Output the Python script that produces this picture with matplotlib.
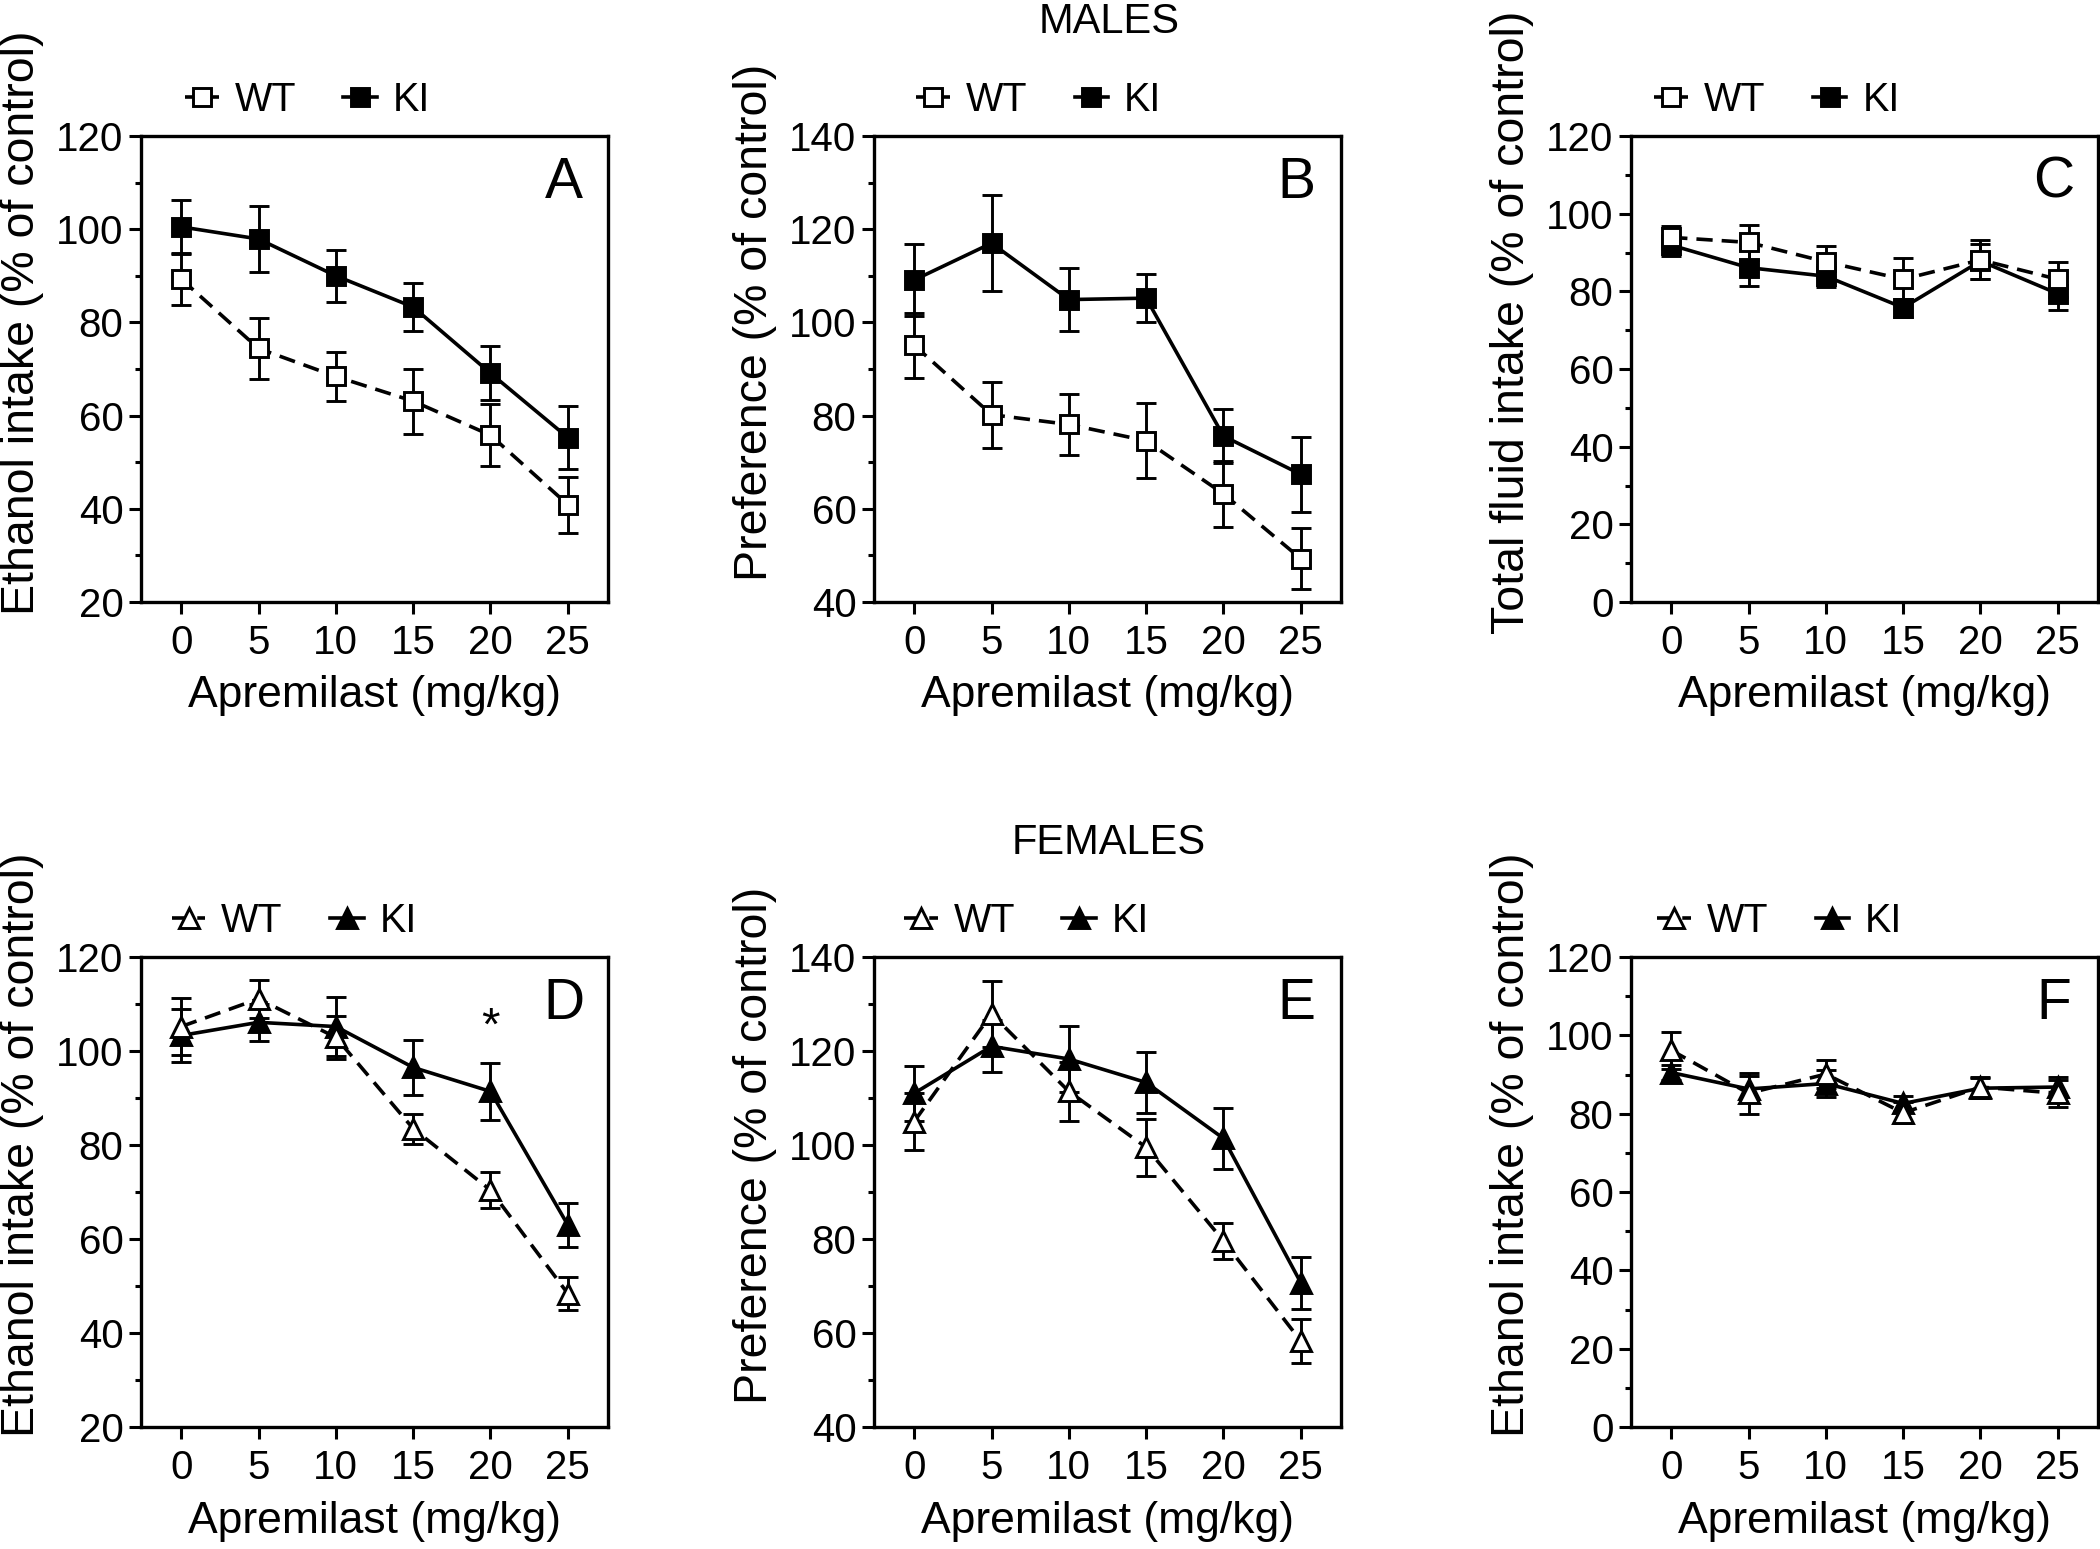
import numpy as np
import matplotlib.pyplot as plt
from matplotlib.ticker import MultipleLocator

plt.rcParams['font.family'] = ['Liberation Sans', 'DejaVu Sans']

dose = [0, 5, 10, 15, 20, 25]

# MALES
a_wt = [89.3, 74.4, 68.4, 63.1, 55.8, 40.9]
a_wt_err = [5.5, 6.6, 5.3, 7.0, 6.7, 6.0]
a_ki = [100.5, 97.9, 90.0, 83.3, 69.1, 55.3]
a_ki_err = [5.8, 7.0, 5.6, 5.2, 5.8, 6.8]

b_wt = [95.1, 80.2, 78.1, 74.6, 63.2, 49.3]
b_wt_err = [7.0, 7.1, 6.5, 8.0, 7.0, 6.5]
b_ki = [109.1, 117.0, 104.9, 105.2, 75.6, 67.4]
b_ki_err = [7.8, 10.3, 6.8, 5.2, 5.8, 8.1]

c_wt = [93.9, 92.6, 87.6, 83.1, 88.1, 83.1]
c_wt_err = [3.0, 4.5, 4.0, 5.6, 5.0, 4.5]
c_ki = [91.9, 86.1, 83.9, 75.8, 87.8, 79.4]
c_ki_err = [2.7, 4.8, 2.8, 2.3, 4.5, 4.3]

# FEMALES
d_wt = [105.2, 111.1, 102.9, 83.5, 70.4, 48.4]
d_wt_err = [6.0, 4.1, 4.5, 3.2, 3.8, 3.5]
d_ki = [103.3, 106.1, 105.2, 96.5, 91.4, 63.0]
d_ki_err = [5.6, 4.0, 6.2, 5.8, 6.0, 4.6]

e_wt = [105.0, 127.9, 111.4, 99.5, 79.6, 58.3]
e_wt_err = [6.0, 7.0, 6.2, 6.0, 3.9, 4.7]
e_ki = [111.0, 121.0, 118.3, 113.3, 101.4, 70.7]
e_ki_err = [5.8, 5.5, 7.1, 6.5, 6.4, 5.5]

f_wt = [96.2, 85.2, 90.1, 80.2, 86.8, 85.2]
f_wt_err = [4.7, 5.2, 3.5, 2.7, 2.5, 3.5]
f_ki = [90.5, 86.3, 87.7, 82.6, 86.5, 86.8]
f_ki_err = [2.0, 3.3, 3.5, 2.0, 2.5, 2.5]

fig = plt.figure(figsize=(21, 15.49), dpi=100)

W, H = 2100, 1549


def add_ax(left, top, right, bottom):
    return fig.add_axes([left / W, 1 - bottom / H, (right - left) / W, (bottom - top) / H])


def panel(ax, wt, wt_err, ki, ki_err, mk, ms, ylim, ylabel, letter, leg_x):
    lw = 2.6
    ax.errorbar(dose, ki, yerr=ki_err, fmt='none', ecolor='black', elinewidth=2.1,
                capsize=7, capthick=2.1, zorder=2)
    ax.errorbar(dose, wt, yerr=wt_err, fmt='none', ecolor='black', elinewidth=2.1,
                capsize=7, capthick=2.1, zorder=3)
    l_ki, = ax.plot(dose, ki, color='black', lw=lw, marker=mk, ms=ms,
                    mfc='black', mec='black', mew=2.1, zorder=4)
    l_wt, = ax.plot(dose, wt, color='black', lw=lw, ls=(0, (4.5, 2.5)), marker=mk, ms=ms,
                    mfc='white', mec='black', mew=2.1, zorder=5)

    ax.set_xlim(-2.6, 27.6)
    ax.set_ylim(*ylim)
    ax.set_xticks(dose)
    ax.yaxis.set_major_locator(MultipleLocator(20))
    ax.yaxis.set_minor_locator(MultipleLocator(10))
    ax.tick_params(axis='both', which='major', length=8.6, width=2.2, labelsize=29)
    ax.tick_params(axis='y', which='minor', length=4.3, width=2.2)
    ax.tick_params(axis='x', pad=7)
    ax.tick_params(axis='y', pad=4)
    for s in ax.spines.values():
        s.set_linewidth(2.4)

    ax.set_ylabel(ylabel, fontsize=33.5, va='center')
    ax.yaxis.set_label_coords(-0.255, 0.6)
    ax.set_xlabel('Apremilast (mg/kg)', fontsize=32, va='center')
    ax.xaxis.set_label_coords(0.5, -0.2)

    ax.text(0.905, 0.90, letter, transform=ax.transAxes, fontsize=41,
            ha='center', va='center')

    ax.legend([l_wt, l_ki], ['WT', 'KI'], loc='center left', bbox_to_anchor=(leg_x, 1.077),
              ncol=2, frameon=False, fontsize=28.5, handlelength=0.85, handletextpad=0.4,
              columnspacing=1.2, borderaxespad=0, borderpad=0)


ax_a = add_ax(141, 136, 608, 602)
ax_b = add_ax(874, 136, 1341, 602)
ax_c = add_ax(1631, 136, 2098, 602)
ax_d = add_ax(141, 957, 608, 1427)
ax_e = add_ax(874, 957, 1341, 1427)
ax_f = add_ax(1631, 957, 2098, 1427)

panel(ax_a, a_wt, a_wt_err, a_ki, a_ki_err, 's', 13, (20, 120),
      'Ethanol intake (% of control)', 'A', 0.094)
panel(ax_b, b_wt, b_wt_err, b_ki, b_ki_err, 's', 13, (40, 140),
      'Preference (% of control)', 'B', 0.09)
panel(ax_c, c_wt, c_wt_err, c_ki, c_ki_err, 's', 13, (0, 120),
      'Total fluid intake (% of control)', 'C', 0.05)
panel(ax_d, d_wt, d_wt_err, d_ki, d_ki_err, '^', 14, (20, 120),
      'Ethanol intake (% of control)', 'D', 0.066)
panel(ax_e, e_wt, e_wt_err, e_ki, e_ki_err, '^', 14, (40, 140),
      'Preference (% of control)', 'E', 0.064)
panel(ax_f, f_wt, f_wt_err, f_ki, f_ki_err, '^', 14, (0, 120),
      'Ethanol intake (% of control)', 'F', 0.056)

# significance mark
ax_d.text(20, 105, '*', fontsize=34, ha='center', va='center')

fig.text(1109 / W, 1 - 22 / H, 'MALES', fontsize=30, ha='center', va='center')
fig.text(1109 / W, 1 - 843 / H, 'FEMALES', fontsize=30, ha='center', va='center')

fig.savefig('out.png', dpi=100)
